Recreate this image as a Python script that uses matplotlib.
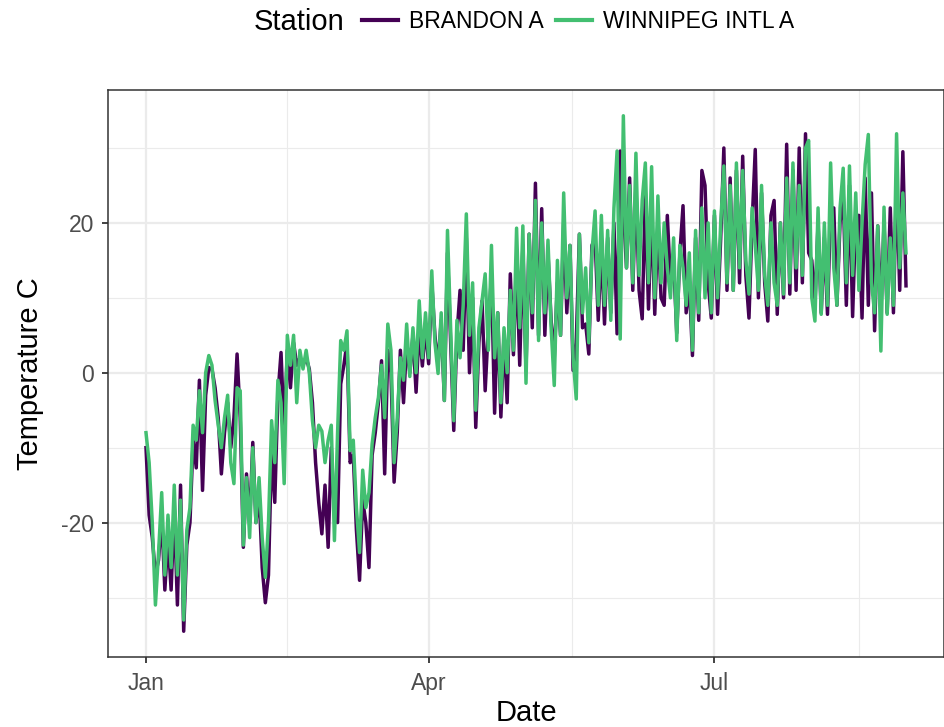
import numpy as np
import pandas as pd
import matplotlib
matplotlib.use("Agg")
import matplotlib.pyplot as plt
from matplotlib.lines import Line2D

plt.rcParams["font.family"] = ["Liberation Sans", "DejaVu Sans"]

stations = ["BRANDON A", "WINNIPEG INTL A"]
colors = ["#440154", "#43BF71"]

# daily temperatures, one list per month
brandon_jan = [-10, -19, -22, -27, -25, -19, -29, -22, -29, -18, -31, -15, -34.5, -23, -20, -9,
               -12.7, -1, -15.7, -3, 0.7, 0.5, -2, -6, -13.5, -8, -4, -10, -6, 2.5, -6]
brandon_feb = [-23.3, -13.5, -20, -9.3, -20, -16, -26, -30.7, -27, -10, -17.3, -3, 2.7, -8,
               3, -2, 4, 1, 2, 1, 2, 0.5, -4, -12, -17.3, -21.5, -15, -23.3]
brandon_mar = [-10, -19, -20, -1.5, 1, 4, -12, -11, -21, -27.7, -17, -20, -26, -11, -8, -4,
               1.6, -13.5, 3, 0, -14.6, -8, 3, -4, 4, 0, 5, -2.6, 6, 0.9, 6]
brandon_apr = [1.2, 12, 5, 1, 7, -3.7, 16, 4, -7.7, 5, 11, 3, 18, 0, 10, -7.3, 4, 9.6, -2.4,
               6, 13, -5.4, 8, -5.9, 5, -4, 13.2, 2.4, 15, 1]
brandon_may = [17, 0.3, 18.5, 6, 25.3, 5, 21.9, 5, 16, 7, 2, 12, 5, 20, 8, 17, 0.3, 4, 18.5,
               6, 6.5, 2.5, 17, 18, 7, 17, 6.5, 18, 8, 20, 5.2]
brandon_jun = [29.6, 22, 14, 26, 11, 25, 11, 7.2, 24, 8.5, 22, 7.8, 20, 10, 9, 21, 12, 15,
               5.3, 16, 22.3, 8, 12, 2.3, 18, 7, 27, 25, 12, 7.3]
brandon_jul = [21, 7.8, 18, 30, 11, 26, 11, 27, 12, 28.9, 13, 7.3, 20, 29.8, 10, 24, 12, 6.9,
               21, 23, 7.8, 20, 10, 30.5, 10.5, 27, 11, 30, 12, 31.9, 16]
brandon_aug = [15, 9, 20, 8, 18, 7.8, 22, 22, 9, 20, 24, 9, 25, 7.5, 21, 21, 7.3, 26, 9, 24,
               5.6, 19.6, 8, 20, 8, 22, 8, 26, 11, 29.5, 11.6]

winnipeg_jan = [-8, -12, -20, -31, -24, -16, -27, -19, -26, -15, -27, -17, -33, -21, -18, -7,
                -9, -2.4, -8, 0, 2.3, 1, -3.7, -7, -10, -6, -3, -12, -14.8, -2, -2.4]
winnipeg_feb = [-23, -14, -22, -10, -20, -14, -22, -27.3, -20, -6.4, -12, -1, -4, -14.8,
                5, 1, 5, -4, 3, 0.5, 3, 0, -6.4, -10, -7, -7.8, -12, -9]
winnipeg_mar = [-7, -22.4, -8, 4.3, 3, 5.6, -10.4, -9, -18, -24, -13, -18, -16, -9.5, -6,
                -3.3, 1, -6, 6.5, 3, -12, -6, 2, -1, 6.5, -0.5, 6, 0, 9.6, 2, 8]
winnipeg_apr = [2, 13.6, 4, -0.1, 8, -3.7, 19, 6, -6.4, 7, 2, 9, 21.2, 5, 12, -5, 6, 9.6,
                13.2, 3, 17, 2, 8, -4, 6, 0, 11, 3, 19.3, 6]
winnipeg_may = [19.6, -1.4, 18.5, 8, 23, 4.3, 20, 8, 17.7, 6, -1.7, 15, 5, 24, 10, 17, 2,
                -3.5, 18.5, 8, 14, 4, 16, 21.6, 9, 21, 9, 19, 7, 22, 29.6]
winnipeg_jun = [4.5, 34.3, 14, 25, 12, 29.3, 13, 23, 28, 12, 27.5, 10, 23.6, 12, 20, 14, 10,
                18, 4.3, 17, 14, 9, 16, 3, 19, 8, 22, 10, 20, 8]
winnipeg_jul = [21.6, 10, 20, 27.6, 12, 25, 11, 28, 14, 27, 15, 10.5, 22, 17, 11, 25, 13, 9,
                20, 12, 9, 20, 10.5, 26, 12, 28, 14, 25, 13, 30, 31]
winnipeg_aug = [10, 6.9, 22, 7.8, 20, 9, 28, 14, 9, 22, 27.3, 12, 27.6, 13, 24, 11, 20,
                27.8, 31.8, 12, 8, 19.6, 2.9, 22.1, 7.8, 18, 9, 31.9, 14, 24, 16]

brandon = (brandon_jan + brandon_feb + brandon_mar + brandon_apr + brandon_may
           + brandon_jun + brandon_jul + brandon_aug)
winnipeg = (winnipeg_jan + winnipeg_feb + winnipeg_mar + winnipeg_apr + winnipeg_may
            + winnipeg_jun + winnipeg_jul + winnipeg_aug)
dates = pd.date_range("2018-01-01", periods=len(brandon), freq="D")

fig = plt.figure(figsize=(9.45, 7.27), dpi=100)
W, H = 945, 727
ax = fig.add_axes([108 / W, (H - 657) / H, (944 - 108) / W, (657 - 90) / H])

for vals, col, lab in zip([brandon, winnipeg], colors, stations):
    ax.plot(dates, vals, color=col, lw=2.5, label=lab)

# limits with ggplot's 5% expansion
allv = np.array(brandon + winnipeg, dtype=float)
lo, hi = allv.min(), allv.max()
pad = (hi - lo) * 0.05
ax.set_ylim(lo - pad, hi + pad)
span = dates[-1] - dates[0]
ax.set_xlim(dates[0] - span * 0.05, dates[-1] + span * 0.05)

major_x = pd.to_datetime(["2018-01-01", "2018-04-01", "2018-07-01"])
minor_x = [major_x[i] + (major_x[i + 1] - major_x[i]) / 2 for i in range(2)]
minor_x.append(major_x[2] + (pd.Timestamp("2018-10-01") - major_x[2]) / 2)
ax.set_xticks(major_x)
ax.set_xticklabels(["Jan", "Apr", "Jul"])
ax.set_xticks(minor_x, minor=True)
ax.set_yticks([-20, 0, 20])
ax.set_yticklabels(["-20", "0", "20"])
ax.set_yticks([-30, -10, 10, 30], minor=True)

ax.grid(which="major", color="#EBEBEB", lw=1.6)
ax.grid(which="minor", color="#EBEBEB", lw=0.8)
ax.set_axisbelow(True)
for s in ax.spines.values():
    s.set_color("#333333")
    s.set_linewidth(1.1)
ax.tick_params(which="major", length=4, width=1.3, color="#333333",
               labelsize=16.5, labelcolor="#4D4D4D")
ax.tick_params(axis="y", pad=6)
ax.tick_params(axis="x", pad=7)
ax.tick_params(which="minor", length=0)

ax.set_xlabel("Date", fontsize=21, labelpad=3)
ax.set_ylabel("Temperature C", fontsize=21, labelpad=12)

fig.text(254 / W, 1 - 22 / H, "Station", fontsize=21, va="center", ha="left")
handles = [Line2D([], [], color=c, lw=3) for c in colors]
fig.legend(handles, stations, ncol=2, loc="center left",
           bbox_to_anchor=(362 / W, 1 - 22 / H), frameon=False, fontsize=16.5,
           borderaxespad=0, borderpad=0,
           handlelength=1.57, handletextpad=0.5, columnspacing=0.5)

fig.savefig("out.png", dpi=100)
